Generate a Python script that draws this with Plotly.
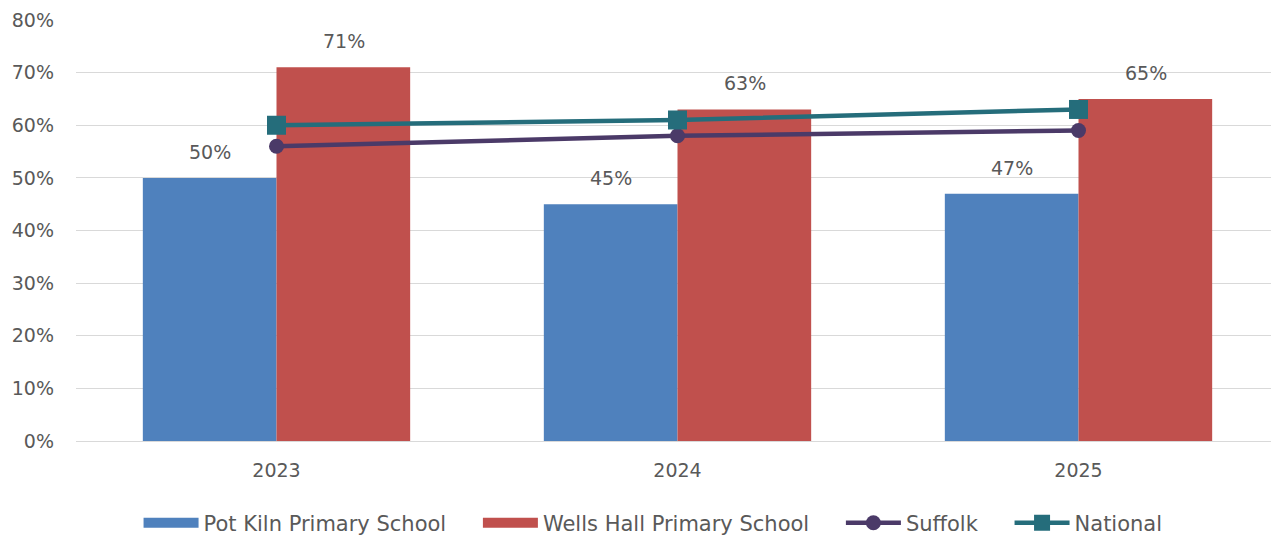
import plotly.graph_objects as go

years = ["2023", "2024", "2025"]
pot_kiln = [0.50, 0.45, 0.47]
wells_hall = [0.71, 0.63, 0.65]
suffolk = [0.56, 0.58, 0.59]
national = [0.60, 0.61, 0.63]
y_ticks = [0, 0.1, 0.2, 0.3, 0.4, 0.5, 0.6, 0.7, 0.8]

FONT = "DejaVu Sans, Liberation Sans, sans-serif"
GREY = "#595959"
BLUE = "#4F81BD"
RED = "#C0504D"
PURPLE = "#4B3A68"
TEAL = "#256D7B"
PAD = "\u00a0" * 4

fig = go.Figure()
fig.add_trace(go.Bar(x=years, y=pot_kiln, name="Pot Kiln Primary School",
                     marker=dict(color=BLUE, line=dict(width=0)), showlegend=False))
fig.add_trace(go.Bar(x=years, y=wells_hall, name="Wells Hall Primary School",
                     marker=dict(color=RED, line=dict(width=0)), showlegend=False))
fig.add_trace(go.Scatter(x=years, y=suffolk, name="Suffolk", mode="lines+markers",
                         line=dict(color=PURPLE, width=4.5),
                         marker=dict(symbol="circle", size=15, color=PURPLE),
                         showlegend=False))
fig.add_trace(go.Scatter(x=years, y=national, name="National", mode="lines+markers",
                         line=dict(color=TEAL, width=4.5),
                         marker=dict(symbol="square", size=19, color=TEAL),
                         showlegend=False))

# legend entries
fig.add_trace(go.Scatter(x=[None], y=[None], name="Pot Kiln Primary School" + PAD, mode="lines",
                         line=dict(color=BLUE, width=14)))
fig.add_trace(go.Scatter(x=[None], y=[None], name="Wells Hall Primary School" + PAD, mode="lines",
                         line=dict(color=RED, width=14)))
fig.add_trace(go.Scatter(x=[None], y=[None], name="Suffolk" + PAD, mode="lines+markers",
                         line=dict(color=PURPLE, width=4.5),
                         marker=dict(symbol="circle", size=15, color=PURPLE)))
fig.add_trace(go.Scatter(x=[None], y=[None], name="National", mode="lines+markers",
                         line=dict(color=TEAL, width=4.5),
                         marker=dict(symbol="square", size=17, color=TEAL)))

for i, v in enumerate(pot_kiln):
    fig.add_annotation(x=i, y=v, text=f"{round(v*100)}%", showarrow=False,
                       xshift=-67, yshift=26, font=dict(size=19, color=GREY, family=FONT))
for i, v in enumerate(wells_hall):
    fig.add_annotation(x=i, y=v, text=f"{round(v*100)}%", showarrow=False,
                       xshift=67, yshift=26, font=dict(size=19, color=GREY, family=FONT))

fig.update_layout(
    width=1271, height=531,
    margin=dict(l=68, r=0, t=12, b=98, autoexpand=False),
    paper_bgcolor="white", plot_bgcolor="white",
    barmode="group", bargap=1/3, bargroupgap=0,
    font=dict(family=FONT, size=19, color=GREY),
    showlegend=True,
    legend=dict(orientation="h", x=0.052, xanchor="left", y=-0.195, yanchor="middle",
                font=dict(size=21, color=GREY, family=FONT), itemwidth=55,
                traceorder="normal", bgcolor="rgba(0,0,0,0)"),
)
fig.update_yaxes(range=[0, 0.8], tickvals=y_ticks, tickformat=".0%",
                 showgrid=True, gridcolor="#D9D9D9", gridwidth=1,
                 zeroline=False, showline=False, ticks="",
                 tickfont=dict(size=19, color=GREY), ticklabelstandoff=21)
fig.update_xaxes(type="category", showgrid=False, showline=True, linecolor="#D9D9D9",
                 linewidth=1, ticks="", tickfont=dict(size=19, color=GREY),
                 ticklabelstandoff=12)

fig.write_html("out.html")
